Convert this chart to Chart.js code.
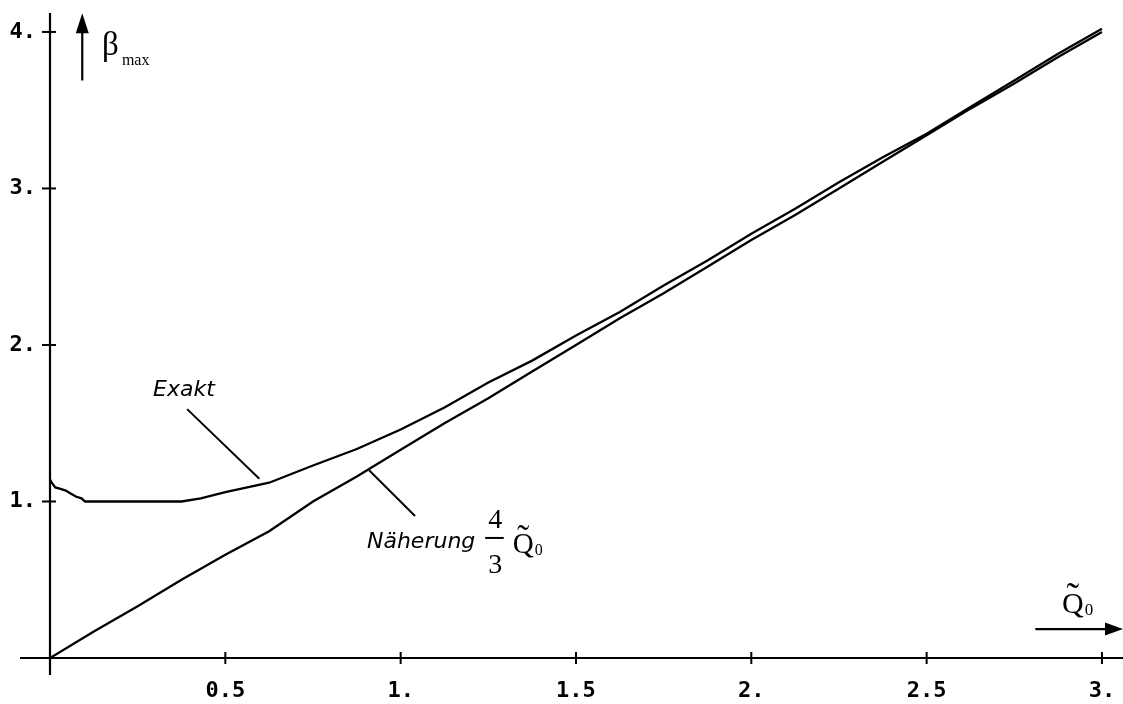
<!DOCTYPE html>
<html>
<head>
<meta charset="utf-8">
<script src="https://cdn.jsdelivr.net/npm/chart.js@4/dist/chart.umd.min.js"></script>
<style>
  html, body { margin: 0; padding: 0; background: #fff; }
  #wrap { width: 1123px; height: 704px; }
</style>
</head>
<body>
<div id="wrap"><canvas id="betaChart" width="1123" height="704"></canvas></div>
<script>
// exact solution
const exaktX = [0, 0.005, 0.015, 0.03, 0.045, 0.06, 0.075, 0.09, 0.1, 0.2, 0.3, 0.375, 0.43, 0.5,
  0.625, 0.75, 0.875, 1.0, 1.125, 1.25, 1.375, 1.5, 1.625, 1.75, 1.875, 2.0, 2.125, 2.25,
  2.375, 2.5, 2.625, 2.75, 2.875, 3.0];
const exaktY = [1.14, 1.12, 1.09, 1.08, 1.07, 1.05, 1.03, 1.02, 1.0, 1.0, 1.0, 1.0, 1.02, 1.06,
  1.12, 1.23, 1.335, 1.46, 1.60, 1.76, 1.90, 2.06, 2.21, 2.38, 2.54, 2.71, 2.87, 3.04,
  3.20, 3.35, 3.52, 3.69, 3.86, 4.02];

// approximation 4/3 Q0
const naherX = [0, 0.125, 0.25, 0.375, 0.5, 0.625, 0.75, 0.875, 1.0, 1.125, 1.25, 1.375, 1.5,
  1.625, 1.75, 1.875, 2.0, 2.125, 2.25, 2.375, 2.5, 2.625, 2.75, 2.875, 3.0];
const naherY = [0, 0.17, 0.33, 0.5, 0.66, 0.81, 1.0, 1.16, 1.33, 1.5, 1.66, 1.83, 2.0,
  2.17, 2.33, 2.5, 2.67, 2.83, 3.0, 3.17, 3.34, 3.51, 3.67, 3.84, 4.0];

const xTicks = [0.5, 1, 1.5, 2, 2.5, 3];
const xTickLabels = ['0.5', '1.', '1.5', '2.', '2.5', '3.'];
const yTicks = [1, 2, 3, 4];
const yTickLabels = ['1.', '2.', '3.', '4.'];

const toPoints = (xs, ys) => xs.map((x, i) => ({ x: x, y: ys[i] }));

function arrowHead(ctx, x, y, dir, len, half) {
  ctx.beginPath();
  if (dir === 'up') {
    ctx.moveTo(x, y); ctx.lineTo(x - half, y + len); ctx.lineTo(x + half, y + len);
  } else {
    ctx.moveTo(x, y); ctx.lineTo(x - len, y - half); ctx.lineTo(x - len, y + half);
  }
  ctx.closePath();
  ctx.fill();
}

function line(ctx, x1, y1, x2, y2) {
  ctx.beginPath();
  ctx.moveTo(x1, y1);
  ctx.lineTo(x2, y2);
  ctx.stroke();
}

// axes with cross ticks, arrows and labels
const axesPlugin = {
  id: 'axesPlugin',
  afterDraw(chart) {
    const ctx = chart.ctx;
    const xs = chart.scales.x, ys = chart.scales.y;
    const px = v => xs.getPixelForValue(v);
    const py = v => ys.getPixelForValue(v);
    const x0 = px(0), y0 = py(0);

    ctx.save();
    ctx.strokeStyle = '#000';
    ctx.fillStyle = '#000';
    ctx.lineWidth = 2.2;
    ctx.lineCap = 'butt';

    // axis lines, running a bit past the origin
    line(ctx, x0, chart.chartArea.top, x0, y0 + 17);
    line(ctx, x0 - 30, y0, chart.width, y0);

    ctx.lineWidth = 2;
    xTicks.forEach(v => line(ctx, px(v), y0 - 6, px(v), y0 + 6));
    yTicks.forEach(v => line(ctx, x0 - 8, py(v), x0 + 6, py(v)));

    // beta_max arrow
    const ax = px(0.092);
    ctx.lineWidth = 2.2;
    line(ctx, ax, py(3.69), ax, py(4.0));
    arrowHead(ctx, ax, py(4.12), 'up', 20, 6.5);

    ctx.textBaseline = 'alphabetic';
    ctx.textAlign = 'left';
    ctx.font = '33px "Liberation Serif"';
    ctx.fillText('\u03B2', px(0.148), py(3.85));
    ctx.font = '16px "Liberation Serif"';
    ctx.fillText('max', px(0.205), py(3.79));

    // Q0 arrow on the right
    const qy = py(0.185);
    line(ctx, px(2.81), qy, chart.width - 8, qy);
    arrowHead(ctx, chart.width, qy, 'right', 18, 6.5);

    function qTilde(x, base, size) {
      ctx.font = size + 'px "Liberation Serif"';
      ctx.textAlign = 'left';
      ctx.fillText('Q', x, base);
      const w = ctx.measureText('Q').width;
      ctx.textAlign = 'center';
      ctx.font = Math.round(size * 1.25) + 'px "Liberation Serif"';
      ctx.fillText('\u02DC', x + w / 2, base - size * 0.12);
      ctx.textAlign = 'left';
      ctx.font = Math.round(size * 0.55) + 'px "Liberation Serif"';
      ctx.fillText('0', x + w + 1, base + 2);
    }
    qTilde(px(2.886), py(0.29), 30);

    // Exakt label with leader line
    ctx.lineWidth = 2;
    line(ctx, px(0.391), py(1.59), px(0.597), py(1.145));
    ctx.font = 'italic 22px "DejaVu Sans"';
    ctx.textAlign = 'left';
    ctx.fillText('Exakt', px(0.294), py(1.674));

    // Naeherung label with leader line
    line(ctx, px(0.91), py(1.2), px(1.041), py(0.907));
    ctx.fillText('N\u00E4herung', px(0.904), py(0.703));
    ctx.font = '28px "Liberation Serif"';
    ctx.textAlign = 'center';
    ctx.fillText('4', px(1.27), py(0.83));
    ctx.fillText('3', px(1.27), py(0.54));
    line(ctx, px(1.241), py(0.767), px(1.294), py(0.767));
    qTilde(px(1.32), py(0.67), 29);

    ctx.restore();
  }
};

const ctx = document.getElementById('betaChart');
new Chart(ctx, {
  type: 'scatter',
  data: {
    datasets: [{
      label: 'Exakt',
      data: toPoints(exaktX, exaktY),
      showLine: true,
      borderColor: '#000',
      borderWidth: 2.3,
      pointRadius: 0,
      tension: 0
    }, {
      label: 'Näherung',
      data: toPoints(naherX, naherY),
      showLine: true,
      borderColor: '#000',
      borderWidth: 2.3,
      pointRadius: 0,
      tension: 0
    }]
  },
  options: {
    responsive: false,
    animation: false,
    layout: {
      padding: { top: 13, right: 0, left: 0, bottom: 0 }
    },
    plugins: {
      legend: { display: false },
      tooltip: { enabled: false }
    },
    scales: {
      x: {
        type: 'linear',
        min: 0,
        max: 3.06,
        border: { display: false },
        grid: { display: false, drawTicks: false },
        afterBuildTicks: scale => { scale.ticks = xTicks.map(v => ({ value: v })); },
        afterFit: scale => {
          scale.height = 46;
          scale.paddingLeft = 0;
          scale.paddingRight = 0;
        },
        ticks: {
          padding: 20,
          maxRotation: 0,
          color: '#000',
          font: { family: '"DejaVu Sans Mono"', size: 22, weight: 'bold' },
          callback: (value, index) => xTickLabels[index]
        }
      },
      y: {
        type: 'linear',
        min: 0,
        max: 4.121,
        border: { display: false },
        grid: { display: false, drawTicks: false },
        afterBuildTicks: scale => { scale.ticks = yTicks.map(v => ({ value: v })); },
        afterFit: scale => {
          scale.width = 50;
          scale.paddingTop = 0;
          scale.paddingBottom = 0;
        },
        ticks: {
          padding: 14,
          color: '#000',
          font: { family: '"DejaVu Sans Mono"', size: 22, weight: 'bold' },
          callback: (value, index) => yTickLabels[index]
        }
      }
    }
  },
  plugins: [axesPlugin]
});
</script>
</body>
</html>
